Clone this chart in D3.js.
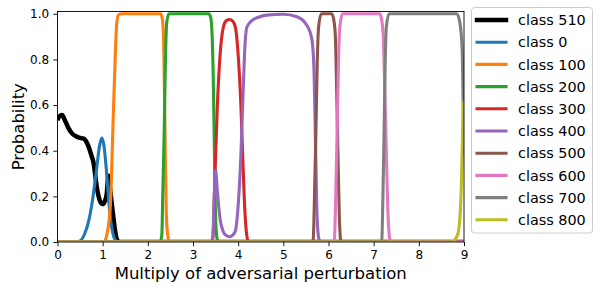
<html>
<head>
<style>
  body { margin: 0; background: #fff; }
  text { font-family: "DejaVu Sans", sans-serif; }
</style>
</head>
<body>
<svg width="600" height="292"></svg>
<script src="https://d3js.org/d3.v7.min.js"></script>
<script>
// series as [x, probability] pairs
var class510 = [[0,0.534],[0.04,0.55],[0.1,0.556],[0.16,0.535],[0.24,0.5],[0.32,0.476],[0.42,0.462],[0.5,0.456],[0.57,0.454],[0.62,0.445],[0.69,0.417],[0.75,0.38],[0.8,0.345],[0.87,0.24],[0.945,0.177],[1.0,0.166],[1.05,0.18],[1.09,0.21],[1.11,0.26],[1.13,0.29],[1.16,0.24],[1.2,0.17],[1.23,0.12],[1.26,0.07],[1.29,0.03],[1.33,0.005],[1.38,0],[9,0]];
var class0 = [[0,0],[0.4,0],[0.5,0.005],[0.6,0.035],[0.7,0.1],[0.78,0.19],[0.86,0.31],[0.93,0.42],[0.98,0.455],[1.03,0.42],[1.08,0.32],[1.13,0.19],[1.18,0.09],[1.23,0.035],[1.3,0.005],[1.38,0],[9,0]];
var class100 = [[0,0],[1.03,0],[1.09,0.03],[1.17,0.16],[1.23,0.52],[1.28,0.82],[1.31,0.955],[1.35,0.995],[1.42,1],[2.28,1],[2.32,0.98],[2.35,0.88],[2.38,0.48],[2.41,0.12],[2.44,0.03],[2.48,0],[9,0]];
var class200 = [[0,0],[2.27,0],[2.31,0.03],[2.33,0.2],[2.36,0.46],[2.39,0.8],[2.42,0.965],[2.47,1],[3.35,1],[3.39,0.985],[3.42,0.92],[3.45,0.7],[3.47,0.45],[3.49,0.2],[3.51,0.06],[3.54,0.01],[3.58,0],[9,0]];
var class300 = [[0,0],[3.4,0],[3.44,0.02],[3.49,0.31],[3.54,0.6],[3.6,0.82],[3.67,0.94],[3.74,0.97],[3.81,0.975],[3.88,0.968],[3.94,0.94],[4.0,0.82],[4.06,0.6],[4.1,0.38],[4.15,0.13],[4.19,0.03],[4.23,0],[9,0]];
var class400 = [[0,0],[3.41,0],[3.44,0.02],[3.47,0.2],[3.5,0.315],[3.54,0.22],[3.6,0.1],[3.67,0.045],[3.74,0.028],[3.81,0.023],[3.88,0.03],[3.94,0.05],[4.0,0.16],[4.06,0.38],[4.1,0.6],[4.14,0.82],[4.19,0.94],[4.3,0.97],[4.45,0.985],[4.63,0.994],[5.0,0.998],[5.3,0.987],[5.52,0.95],[5.63,0.89],[5.68,0.746],[5.71,0.454],[5.74,0.16],[5.78,0.02],[5.82,0],[9,0]];
var class500 = [[0,0],[5.62,0],[5.66,0.01],[5.69,0.2],[5.72,0.476],[5.75,0.78],[5.78,0.94],[5.84,1],[6.07,1],[6.12,0.97],[6.15,0.91],[6.2,0.476],[6.24,0.11],[6.27,0.01],[6.31,0],[9,0]];
var class600 = [[0,0],[6.09,0],[6.13,0.01],[6.16,0.2],[6.19,0.476],[6.22,0.78],[6.25,0.94],[6.31,1],[7.14,1],[7.18,0.97],[7.21,0.91],[7.27,0.476],[7.32,0.11],[7.36,0.01],[7.4,0],[9,0]];
var class700 = [[0,0],[7.14,0],[7.18,0.01],[7.205,0.2],[7.23,0.476],[7.255,0.78],[7.28,0.94],[7.34,1],[8.84,1],[8.91,0.96],[8.96,0.84],[8.98,0.62],[9,0.38]];
var class800 = [[0,0],[8.76,0],[8.8,0.01],[8.87,0.04],[8.93,0.18],[8.96,0.4],[8.98,0.58],[9,0.62]];

var labels = ["class 510","class 0","class 100","class 200","class 300","class 400","class 500","class 600","class 700","class 800"];
var series = [class510, class0, class100, class200, class300, class400, class500, class600, class700, class800];
var colors = ["#000000","#1f77b4","#ff7f0e","#2ca02c","#d62728","#9467bd","#8c564b","#e377c2","#7f7f7f","#bcbd22"];
var xTicks = [0,1,2,3,4,5,6,7,8,9];
var yTicks = [0,0.2,0.4,0.6,0.8,1.0];

var svg = d3.select("svg");
var axLeft = 57.5, axRight = 464, axTop = 11.5, axBottom = 242;

var x = d3.scaleLinear().domain([0, 9]).range([axLeft, axRight]);
var y = d3.scaleLinear().domain([0, 1.01]).range([axBottom, axTop]);

svg.append("clipPath").attr("id", "clip")
  .append("rect").attr("x", axLeft).attr("y", axTop).attr("width", axRight - axLeft).attr("height", axBottom - axTop);

var line = d3.line()
  .x(function(d){ return x(d[0]); })
  .y(function(d){ return y(d[1]); })
  .curve(d3.curveMonotoneX);

var plot = svg.append("g").attr("clip-path", "url(#clip)");
series.forEach(function(s, i){
  plot.append("path")
    .attr("d", line(s))
    .attr("fill", "none")
    .attr("stroke", colors[i])
    .attr("stroke-width", i == 0 ? 4.5 : 3.1)
    .attr("stroke-linejoin", "round");
});

// axes
var xAxis = svg.append("g").attr("transform", "translate(0," + axBottom + ")")
  .call(d3.axisBottom(x).tickValues(xTicks).tickFormat(d3.format("d")).tickSizeOuter(0).tickSize(4.2).tickPadding(4.5));
var yAxis = svg.append("g").attr("transform", "translate(" + axLeft + ",0)")
  .call(d3.axisLeft(y).tickValues(yTicks).tickFormat(d3.format(".1f")).tickSizeOuter(0).tickSize(4.2).tickPadding(4.2));
[xAxis, yAxis].forEach(function(a){
  a.select(".domain").remove();
  a.selectAll("text").attr("font-family", "DejaVu Sans").attr("font-size", 12).attr("fill", "#000");
  a.selectAll("line").attr("stroke", "#000").attr("stroke-width", 0.9);
});

svg.append("rect")
  .attr("x", axLeft).attr("y", axTop).attr("width", axRight - axLeft).attr("height", axBottom - axTop)
  .attr("fill", "none").attr("stroke", "#000").attr("stroke-width", 0.9);

svg.append("text")
  .attr("x", (axLeft + axRight) / 2).attr("y", 279)
  .attr("text-anchor", "middle").attr("font-size", 16.5)
  .text("Multiply of adversarial perturbation");

svg.append("text")
  .attr("transform", "translate(23.5," + ((axTop + axBottom) / 2) + ") rotate(-90)")
  .attr("text-anchor", "middle").attr("font-size", 16.5)
  .text("Probability");

// legend
var lg = svg.append("g");
lg.append("rect")
  .attr("x", 471.5).attr("y", 7.5).attr("width", 121).attr("height", 225.5)
  .attr("rx", 3).attr("fill", "#fff").attr("fill-opacity", 0.8)
  .attr("stroke", "#cccccc").attr("stroke-width", 1);
labels.forEach(function(l, i){
  var cy = 20 + i * 22.2;
  lg.append("line")
    .attr("x1", 477).attr("x2", 506).attr("y1", cy).attr("y2", cy)
    .attr("stroke", colors[i]).attr("stroke-width", i == 0 ? 4.5 : 3.1)
    .attr("stroke-linecap", "square");
  lg.append("text")
    .attr("x", 518).attr("y", cy + 5.2)
    .attr("font-size", 14.4)
    .text(l);
});
</script>
</body>
</html>
